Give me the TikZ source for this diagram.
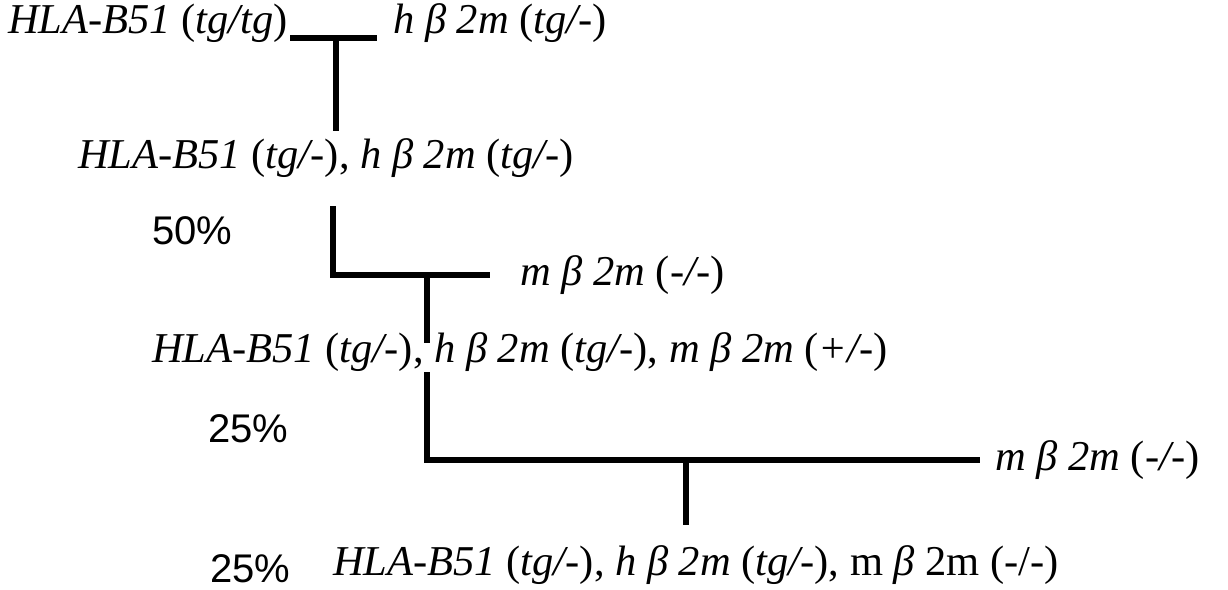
\documentclass[tikz,border=0pt]{standalone}
\usepackage{fontspec}
\setmainfont{Liberation Serif}
\newfontfamily\pctfont{Liberation Sans}
\begin{document}
\begin{tikzpicture}[x=1pt,y=-1pt,
  gtxt/.style={anchor=base west,inner sep=0pt,font=\fontsize{42.5}{46}\selectfont},
  pct/.style={anchor=base west,inner sep=0pt,font=\pctfont\fontsize{40}{44}\selectfont},
  cross/.style={line width=5.5pt,line cap=butt}]
\useasboundingbox (0,0) rectangle (1228,589);
% texts
\node[gtxt] (p1) at (8,33) {\textit{HLA-B51} (\textit{tg/tg})};
\node[gtxt] (p2) at (393,33) {\textit{h β 2m} (\textit{tg/-})};
\node[gtxt] (f1) at (78,168) {\textit{HLA-B51} (\textit{tg/-}), \textit{h β 2m} (\textit{tg/-})};
\node[pct] (c1) at (152,244) {50\%};
\node[gtxt] (p3) at (520,285) {\textit{m β 2m} (\textit{-/-})};
\node[gtxt] (f2) at (152,362) {\textit{HLA-B51} (\textit{tg/-}), \textit{h β 2m} (\textit{tg/-}), \textit{m β 2m} (\textit{+/-})};
\node[pct] (c2) at (208,442) {25\%};
\node[gtxt] (p4) at (995,470) {\textit{m β 2m} (\textit{-/-})};
\node[pct] (c3) at (210,582) {25\%};
\node[gtxt] (f3) at (333,575) {\textit{HLA-B51} (\textit{tg/-}), \textit{h β 2m} (\textit{tg/-}), m \textit{β} 2m (-/-)};
% junction coordinates
\coordinate (a1) at (290,38);
\coordinate (a2) at (377,38);
\coordinate (am) at (336,38);
\coordinate (ab) at (336,131);
\coordinate (b0) at (333,206);
\coordinate (b1) at (333,275);
\coordinate (b2) at (490,275);
\coordinate (bm) at (427,275);
\coordinate (bb) at (427,343);
\coordinate (d0) at (427,372);
\coordinate (d1) at (427,460);
\coordinate (d2) at (980,460);
\coordinate (dm) at (686,460);
\coordinate (db) at (686,525);
% connectors
\draw[cross] (a1) -- (a2);
\draw[cross] (am) -- (ab);
\draw[cross] (b0) -- (b1) -- (b2);
\draw[cross] (bm) -- (bb);
\draw[cross] (d0) -- (d1) -- (d2);
\draw[cross] (dm) -- (db);
\end{tikzpicture}
\end{document}
